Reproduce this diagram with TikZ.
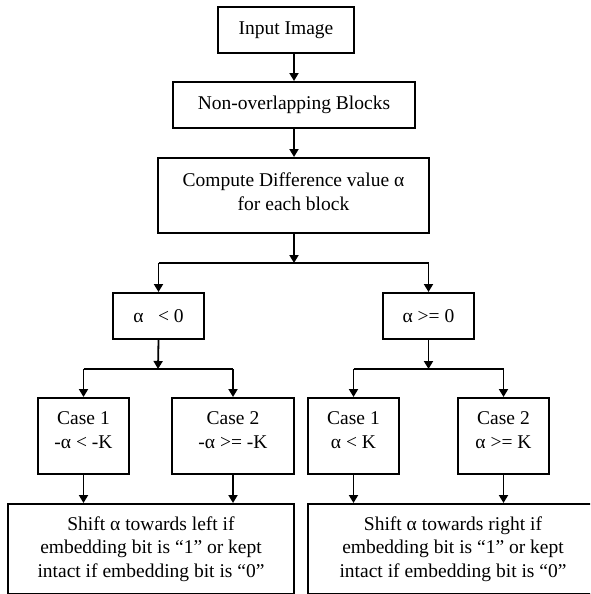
\documentclass[tikz,border=0pt]{standalone}
\usepackage{fontspec}
\setmainfont{Liberation Serif}
\usetikzlibrary{arrows.meta}
\begin{document}
\begin{tikzpicture}[x=1pt,y=-1pt,
  box/.style={draw=black,line width=2pt,rectangle,inner sep=0pt,align=center,
    font=\fontsize{19.5}{23.5}\selectfont},
  arr/.style={line width=1.8pt,-{Triangle[width=9pt,length=8pt]}},
  ln/.style={line width=1.8pt}]
\useasboundingbox (0,0) rectangle (590,594);
\clip (0,0) rectangle (590,594);
\node[box,minimum width=136pt,minimum height=46pt] (in) at (286,30) {Input Image};
\node[box,minimum width=242pt,minimum height=46pt] (nob) at (294,105) {Non-overlapping Blocks};
\node[box,minimum width=271pt,minimum height=75pt] (comp) at (293.5,195.5) {Compute Difference value α\\for each block\\[-15.5pt]};
\node[box,minimum width=91pt,minimum height=46pt] (a1) at (158.5,316) {α\ \ \ < 0};
\node[box,minimum width=91pt,minimum height=46pt] (a2) at (428.5,316) {α >= 0};
\node[box,minimum width=91pt,minimum height=76pt] (c1l) at (83.5,436) {Case 1\\-α < -K\\[-11.5pt]};
\node[box,minimum width=122pt,minimum height=76pt] (c2l) at (233,436) {Case 2\\-α >= -K\\[-11.5pt]};
\node[box,minimum width=91pt,minimum height=76pt] (c1r) at (353.5,436) {Case 1\\α < K\\[-11.5pt]};
\node[box,minimum width=91pt,minimum height=76pt] (c2r) at (503.5,436) {Case 2\\α >= K\\[-11.5pt]};
\node[box,minimum width=286pt,minimum height=90pt,anchor=north] (bl) at (151,503) {Shift α towards left if\\embedding bit is “1” or kept\\intact if embedding bit is “0”};
\node[box,minimum width=290pt,minimum height=90pt,anchor=north] (br) at (453,503) {Shift α towards right if\\embedding bit is “1” or kept\\intact if embedding bit is “0”};
\coordinate (s1) at (294,263);
\coordinate (s2) at (158,369);
\coordinate (s3) at (428.5,369);
\draw[arr] (in.south -| nob.north) -- (nob.north);
\draw[arr] (nob.south) -- (nob.south |- comp.north);
\draw[arr] (comp.south -| s1) -- (s1);
\draw[ln] (s1 -| a1.north) -- (s1 -| a2.north);
\draw[arr] (s1 -| a1.north) -- (a1.north);
\draw[arr] (s1 -| a2.north) -- (a2.north);
\draw[arr] (a1.south) -- (s2);
\draw[arr] (a2.south) -- (s3);
\draw[ln] (s2 -| c1l.north) -- (s2 -| c2l.north);
\draw[ln] (s3 -| c1r.north) -- (s3 -| c2r.north);
\draw[arr] (s2 -| c1l.north) -- (c1l.north);
\draw[arr] (s2 -| c2l.north) -- (c2l.north);
\draw[arr] (s3 -| c1r.north) -- (c1r.north);
\draw[arr] (s3 -| c2r.north) -- (c2r.north);
\draw[arr] (c1l.south) -- (c1l.south |- bl.north);
\draw[arr] (c2l.south) -- (c2l.south |- bl.north);
\draw[arr] (c1r.south) -- (c1r.south |- br.north);
\draw[arr] (c2r.south) -- (c2r.south |- br.north);
\end{tikzpicture}
\end{document}
